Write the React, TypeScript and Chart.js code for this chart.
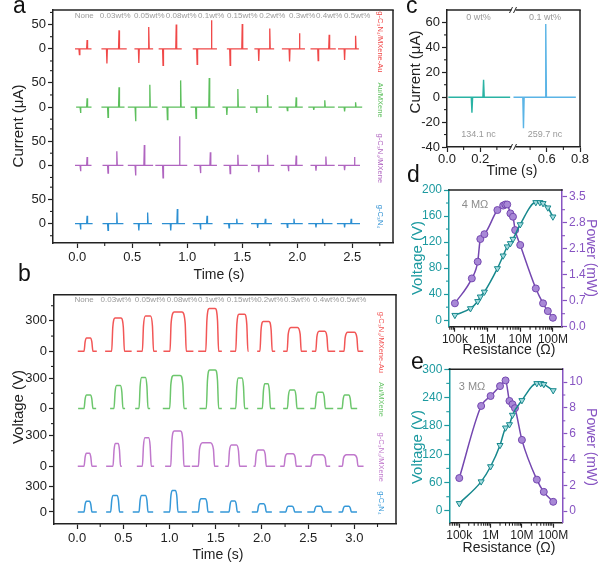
import React, { useEffect, useRef } from 'react';
import { Chart, registerables } from 'chart.js';

Chart.register(...registerables);
const FONT = '"Liberation Sans", Arial, Helvetica, sans-serif';
Chart.defaults.font.family = FONT;

// ---------------- shared labels ----------------
const concLabels = ['None', '0.03wt%', '0.05wt%', '0.08wt%', '0.1wt%', '0.15wt%', '0.2wt%', '0.3wt%', '0.4wt%', '0.5wt%'];
const seriesNames = ['g-C₃N₄/MXene-Au', 'Au/MXene', 'g-C₃N₄/MXene', 'g-C₃N₄'];

// ---------------- panel a : current (µA) ----------------
const aLabelTimes = [0.064, 0.345, 0.655, 0.945, 1.218, 1.5, 1.773, 2.045, 2.29, 2.545];
const aRedStart = [-0.02, 0.22, 0.52, 0.74, 1.05, 1.36, 1.61, 1.86, 2.12, 2.37];
const aRedEnd = [0.13, 0.45, 0.69, 0.95, 1.27, 1.55, 1.79, 2.07, 2.35, 2.56];
const aRedNegT = [0.02, 0.27, 0.56, 0.78, 1.09, 1.39, 1.65, 1.93, 2.19, 2.43];
const aRedPosT = [0.09, 0.38, 0.65, 0.9, 1.22, 1.5, 1.75, 2.02, 2.29, 2.53];
const aRedNeg = [-12, -30, -29, -34, -32, -34, -25, -26, -24, -23];
const aRedPos = [18, 38, 45, 50, 59, 51, 42, 32, 29, 27];

const aGreenStart = [-0.01, 0.22, 0.46, 0.77, 1.03, 1.32, 1.57, 1.83, 2.1, 2.37];
const aGreenEnd = [0.13, 0.43, 0.73, 0.98, 1.25, 1.53, 1.77, 2.05, 2.34, 2.59];
const aGreenNegT = [0.03, 0.28, 0.53, 0.82, 1.08, 1.36, 1.63, 1.91, 2.15, 2.43];
const aGreenPosT = [0.09, 0.38, 0.66, 0.94, 1.2, 1.46, 1.73, 1.99, 2.25, 2.53];
const aGreenNeg = [-12, -21, -29, -26, -23, -16, -12, -7, -6, -9];
const aGreenPos = [18, 41, 46, 55, 60, 37, 25, 20, 14, 10];

const aPurpleStart = [-0.02, 0.23, 0.46, 0.71, 1.06, 1.33, 1.58, 1.85, 2.12, 2.37];
const aPurpleEnd = [0.13, 0.42, 0.69, 1.0, 1.27, 1.55, 1.79, 2.05, 2.34, 2.57];
const aPurpleNegT = [0.03, 0.28, 0.53, 0.78, 1.12, 1.39, 1.65, 1.92, 2.17, 2.43];
const aPurplePosT = [0.09, 0.36, 0.61, 0.93, 1.21, 1.46, 1.73, 1.99, 2.26, 2.52];
const aPurpleNeg = [-12, -16, -21, -26, -16, -17, -14, -12, -11, -10];
const aPurplePos = [17, 29, 42, 60, 27, 22, 22, 20, 18, 17];

const aBlueStart = [-0.02, 0.23, 0.51, 0.77, 1.05, 1.33, 1.58, 1.85, 2.1, 2.36];
const aBlueEnd = [0.14, 0.42, 0.68, 0.98, 1.23, 1.51, 1.77, 2.05, 2.32, 2.57];
const aBlueNegT = [0.03, 0.28, 0.56, 0.85, 1.12, 1.38, 1.64, 1.91, 2.17, 2.43];
const aBluePosT = [0.09, 0.36, 0.64, 0.91, 1.18, 1.45, 1.71, 1.97, 2.23, 2.49];
const aBlueNeg = [-12, -14, -14, -14, -12, -9, -9, -8, -8, -8];
const aBluePos = [16, 23, 23, 30, 16, 10, 10, 10, 10, 10];

// ---------------- panel b : voltage (V) ----------------
const bLabelTimes = [0.076, 0.42, 0.79, 1.136, 1.45, 1.786, 2.09, 2.38, 2.695, 2.987];
const bRedStart = [0.007, 0.303, 0.646, 0.934, 1.31, 1.656, 1.948, 2.229, 2.54, 2.835];
const bRedEnd = [0.213, 0.59, 0.863, 1.258, 1.566, 1.855, 2.143, 2.486, 2.792, 3.095];
const bRedRise = [0.087, 0.386, 0.718, 1.017, 1.404, 1.728, 1.99, 2.284, 2.594, 2.9];
const bRedFall = [0.159, 0.5, 0.815, 1.169, 1.519, 1.836, 2.099, 2.413, 2.703, 3.027];
const bRedPeak = [132, 329, 348, 387, 423, 365, 294, 235, 197, 187];

const bGreenStart = [0.011, 0.357, 0.628, 0.927, 1.324, 1.656, 1.948, 2.229, 2.522, 2.814];
const bGreenEnd = [0.206, 0.519, 0.79, 1.187, 1.566, 1.851, 2.143, 2.457, 2.771, 3.03];
const bGreenRise = [0.087, 0.411, 0.682, 1.014, 1.41, 1.728, 2.016, 2.287, 2.587, 2.879];
const bGreenFall = [0.159, 0.484, 0.755, 1.144, 1.519, 1.8, 2.08, 2.367, 2.673, 2.955];
const bGreenPeak = [132, 226, 306, 326, 381, 300, 245, 181, 161, 132];

const bPurpleStart = [0.007, 0.314, 0.646, 0.952, 1.241, 1.602, 1.908, 2.197, 2.468, 2.828];
const bPurpleEnd = [0.213, 0.484, 0.833, 1.223, 1.529, 1.837, 2.143, 2.432, 2.738, 3.099];
const bPurpleRise = [0.087, 0.4, 0.718, 1.025, 1.324, 1.648, 1.937, 2.251, 2.54, 2.882];
const bPurpleFall = [0.148, 0.458, 0.79, 1.144, 1.475, 1.746, 2.035, 2.359, 2.684, 3.027];
const bPurplePeak = [126, 221, 275, 341, 227, 205, 158, 120, 110, 110];

const bBlueStart = [0.007, 0.314, 0.602, 0.934, 1.241, 1.548, 1.89, 2.189, 2.49, 2.828];
const bBlueEnd = [0.213, 0.5, 0.823, 1.187, 1.475, 1.764, 2.107, 2.432, 2.754, 3.028];
const bBlueRise = [0.087, 0.375, 0.682, 1.014, 1.324, 1.656, 1.962, 2.27, 2.576, 2.882];
const bBlueFall = [0.148, 0.447, 0.755, 1.079, 1.404, 1.721, 2.035, 2.342, 2.649, 2.955];
const bBluePeak = [125, 195, 195, 253, 156, 129, 97, 66, 66, 66];

// ---------------- panel c : current traces ----------------
const cLeftTime = [0.008, 0.146, 0.15, 0.154, 0.216, 0.22, 0.224, 0.38];
const cLeftCurrent = [0, 0, -12.5, 0, 0, 14, 0, 0];
const cRightTime = [0.4, 0.456, 0.46, 0.464, 0.59, 0.594, 0.598, 0.775];
const cRightCurrent = [0, 0, -25, 0, 0, 58.7, 0, 0];

// ---------------- panel d : 4 MΩ matching ----------------
const dVoltR = [1e5, 3e5, 5e5, 6e5, 8e5, 2e6, 3e6, 4e6, 5e6, 6e6, 1e7, 3e7, 4e7, 5e7, 7e7, 1e8];
const dVolt = [7.7, 18, 29, 36, 43.5, 79.5, 99, 113, 118, 124.6, 147, 181, 181, 179.5, 172.8, 158.9];
const dPowR = [1e5, 3.3e5, 5e5, 6e5, 8e5, 2e6, 3e6, 3.5e6, 4e6, 5e6, 6e6, 7e6, 1e7, 3e7, 5e7, 7e7, 1e8];
const dPow = [0.63, 1.3, 1.75, 2.36, 2.49, 3.14, 3.26, 3.29, 3.29, 3.05, 2.96, 2.6, 2.2, 1.03, 0.63, 0.42, 0.24];

// ---------------- panel e : 3 MΩ matching ----------------
const eVoltR = [1e5, 5e5, 1e6, 2e6, 3e6, 4e6, 5e6, 1e7, 3e7, 4e7, 5e7, 1e8];
const eVolt = [16, 62, 94, 139, 176, 183, 203, 234, 270, 270, 268, 255];
const ePowR = [1e5, 5e5, 1e6, 2e6, 3e6, 4e6, 5e6, 6e6, 1e7, 3e7, 5e7, 1e8];
const ePow = [2.56, 8.15, 8.92, 9.69, 10.13, 8.54, 8.28, 7.98, 5.52, 2.44, 1.49, 0.72];

// ---------------- layout constants ----------------
const A_OFF = [360, 240, 120, 0];
const B_OFF = [1588, 1023, 452, 0];
const B_SC = [1, 1, 1.02, 0.84];
const A_COL = ['#f04848', '#5cbf5c', '#b065c0', '#2c8fd2'];
const B_COL = ['#f25656', '#6cc66c', '#c078cc', '#3598d8'];
const TEAL = '#1d9aa0';
const TEAL_D = '#17888d';
const PURP = '#8754c2';
const PURP_D = '#7447b0';
const INK = '#222';

function steps(a: number, b: number, s: number) {
  const out: number[] = [];
  const n = Math.round((b - a) / s);
  for (let k = 0; k <= n; k++) out.push(+(a + k * s).toFixed(6));
  return out;
}
const isMult = (v: number, m: number) => Math.abs(v / m - Math.round(v / m)) < 1e-6;

function spikeTrace(s: number[], e: number[], nt: number[], pt: number[], ni: number[], pi: number[], off: number) {
  const pts: any[] = [];
  const d = 0.004;
  for (let k = 0; k < s.length; k++) {
    pts.push({ x: s[k], y: off }, { x: nt[k] - d, y: off }, { x: nt[k], y: off + ni[k] }, { x: nt[k] + d, y: off },
      { x: pt[k] - d, y: off }, { x: pt[k], y: off + pi[k] }, { x: pt[k] + d, y: off }, { x: e[k], y: off });
    pts.push({ x: e[k] + 0.002, y: null });
  }
  return pts;
}

function pulseTrace(s: number[], e: number[], r: number[], f: number[], p: number[], off: number, sc: number) {
  const pts: any[] = [];
  for (let k = 0; k < s.length; k++) {
    const w = f[k] - r[k];
    const push = (x: number, v: number) => pts.push({ x, y: off + v * sc });
    push(s[k], 0); push(r[k] - 0.012, 0); push(r[k], 0.72 * p[k]); push(r[k] + 0.22 * w, p[k]);
    push(f[k] - 0.22 * w, p[k]); push(f[k], 0.72 * p[k]); push(f[k] + 0.012, 0); push(e[k], 0);
    pts.push({ x: e[k] + 0.002, y: null });
  }
  return pts;
}

const xy = (xs: number[], ys: number[]) => xs.map((x, i) => ({ x, y: ys[i] }));

function axis(o: any) {
  const color = o.color || INK;
  const border = o.border || INK;
  return {
    type: o.type || 'linear',
    position: o.pos,
    min: o.min,
    max: o.max,
    afterBuildTicks: (s: any) => { s.ticks = o.ticks.map((v: number) => ({ value: v })); },
    afterFit: (s: any) => { if (o.pos === 'left' || o.pos === 'right') s.width = o.size; else s.height = o.size; },
    ticks: {
      autoSkip: false, maxRotation: 0, minRotation: 0, padding: o.pad ?? 2, color,
      font: { size: o.font || 13, family: FONT },
      callback: (v: number) => o.label(v),
    },
    grid: {
      drawOnChartArea: false, drawTicks: true, tickLength: 5, tickWidth: 1.2,
      tickColor: (c: any) => (c.tick && o.label(c.tick.value) === '' ? 'rgba(0,0,0,0)' : border),
    },
    border: { display: true, color: border, width: 1.5 },
  };
}

function deco(cfg: any) {
  return {
    id: 'deco',
    afterDraw(chart: any) {
      const ctx = chart.ctx;
      const ca = chart.chartArea;
      ctx.save();
      ctx.lineWidth = 1.5;
      if (cfg.top) { ctx.strokeStyle = cfg.top; ctx.beginPath(); ctx.moveTo(ca.left - 0.75, ca.top); ctx.lineTo(ca.right + 0.75, ca.top); ctx.stroke(); }
      if (cfg.right) { ctx.strokeStyle = cfg.right; ctx.beginPath(); ctx.moveTo(ca.right, ca.top); ctx.lineTo(ca.right, ca.bottom); ctx.stroke(); }
      (cfg.minor || []).forEach((m: any) => {
        const sc = chart.scales[m.id];
        ctx.strokeStyle = m.color; ctx.lineWidth = 1.1;
        sc.ticks.forEach((t: any) => {
          if (m.label(t.value) !== '') return;
          const p = sc.getPixelForValue(t.value);
          ctx.beginPath();
          if (m.pos === 'left') { ctx.moveTo(ca.left, p); ctx.lineTo(ca.left - 3, p); }
          else if (m.pos === 'right') { ctx.moveTo(ca.right, p); ctx.lineTo(ca.right + 3, p); }
          else { ctx.moveTo(p, ca.bottom); ctx.lineTo(p, ca.bottom + 3); }
          ctx.stroke();
        });
      });
      if (cfg.extra) cfg.extra(chart, ctx);
      (cfg.texts ? cfg.texts(chart) : []).forEach((t: any) => {
        ctx.save();
        ctx.translate(t.x, t.y);
        if (t.rot) ctx.rotate(t.rot);
        ctx.font = t.font;
        ctx.fillStyle = t.color;
        ctx.textAlign = t.align || 'center';
        ctx.textBaseline = t.base || 'middle';
        ctx.fillText(t.text, 0, 0);
        ctx.restore();
      });
      ctx.restore();
    },
  };
}

const baseOpts = {
  responsive: false,
  animation: false,
  devicePixelRatio: 1,
  plugins: { legend: { display: false }, tooltip: { enabled: false } },
  elements: { point: { radius: 0 } },
};

// ---------------- chart configs ----------------
function configA(): any {
  const sets = [
    [aRedStart, aRedEnd, aRedNegT, aRedPosT, aRedNeg, aRedPos],
    [aGreenStart, aGreenEnd, aGreenNegT, aGreenPosT, aGreenNeg, aGreenPos],
    [aPurpleStart, aPurpleEnd, aPurpleNegT, aPurplePosT, aPurpleNeg, aPurplePos],
    [aBlueStart, aBlueEnd, aBlueNegT, aBluePosT, aBlueNeg, aBluePos],
  ];
  const datasets = sets.map((s, g) => ({
    data: spikeTrace(s[0], s[1], s[2], s[3], s[4], s[5], A_OFF[g]),
    borderColor: A_COL[g], borderWidth: 1.3, pointRadius: 0, tension: 0,
  }));
  const yT: { v: number; l: string }[] = [];
  A_OFF.forEach((o) => [-25, 0, 25, 50, 75].forEach((r) => yT.push({ v: o + r, l: r === 0 ? '0' : r === 50 ? '50' : '' })));
  yT.sort((p, q) => p.v - q.v);
  const yLab = (v: number) => { const f = yT.find((t) => Math.abs(t.v - v) < 1e-6); return f ? f.l : ''; };
  const xLab = (v: number) => (isMult(v, 0.5) ? v.toFixed(1) : '');
  return {
    type: 'line',
    data: { datasets },
    options: {
      ...baseOpts,
      layout: { padding: { top: 10, right: 7, left: 0, bottom: 0 } },
      scales: {
        x: axis({ pos: 'bottom', min: -0.22, max: 2.87, ticks: steps(0, 2.75, 0.25), label: xLab, size: 42 }),
        y: axis({ pos: 'left', min: -40, max: 440, ticks: yT.map((t) => t.v), label: yLab, size: 53 }),
      },
    },
    plugins: [deco({
      top: INK, right: INK,
      minor: [{ id: 'x', pos: 'bottom', color: INK, label: xLab }, { id: 'y', pos: 'left', color: INK, label: yLab }],
      texts: (ch: any) => {
        const xs = ch.scales.x, ys = ch.scales.y, ca = ch.chartArea;
        const out: any[] = [];
        concLabels.forEach((t, i) => out.push({ text: t, x: xs.getPixelForValue(aLabelTimes[i]), y: ca.top + 6, font: `8px ${FONT}`, color: '#9a9a9a' }));
        seriesNames.forEach((t, g) => out.push({ text: t, x: 380, y: ys.getPixelForValue(A_OFF[g]) - 7, font: `7.5px ${FONT}`, color: A_COL[g], rot: Math.PI / 2 }));
        out.push({ text: 'Current (μA)', x: 19, y: 126, font: `15px ${FONT}`, color: INK, rot: -Math.PI / 2 });
        out.push({ text: 'Time (s)', x: 219, y: 275, font: `14px ${FONT}`, color: INK });
        return out;
      },
    })],
  };
}

function configB(): any {
  const sets = [
    [bRedStart, bRedEnd, bRedRise, bRedFall, bRedPeak],
    [bGreenStart, bGreenEnd, bGreenRise, bGreenFall, bGreenPeak],
    [bPurpleStart, bPurpleEnd, bPurpleRise, bPurpleFall, bPurplePeak],
    [bBlueStart, bBlueEnd, bBlueRise, bBlueFall, bBluePeak],
  ];
  const datasets = sets.map((s, g) => ({
    data: pulseTrace(s[0], s[1], s[2], s[3], s[4], B_OFF[g], B_SC[g]),
    borderColor: B_COL[g], borderWidth: 1.5, pointRadius: 0, cubicInterpolationMode: 'monotone',
  }));
  const rel = [[-150, 0, 150, 300, 450], [-150, 0, 150, 300], [0, 150, 300], [0, 150, 300]];
  const yT: { v: number; l: string }[] = [];
  B_OFF.forEach((o, g) => rel[g].forEach((r) => yT.push({ v: +(o + r * B_SC[g]).toFixed(3), l: r === 0 ? '0' : r === 300 ? '300' : '' })));
  yT.sort((p, q) => p.v - q.v);
  const yLab = (v: number) => { const f = yT.find((t) => Math.abs(t.v - v) < 1e-3); return f ? f.l : ''; };
  const xLab = (v: number) => (isMult(v, 0.5) ? v.toFixed(1) : '');
  return {
    type: 'line',
    data: { datasets },
    options: {
      ...baseOpts,
      layout: { padding: { top: 5, right: 4, left: 0, bottom: 0 } },
      scales: {
        x: axis({ pos: 'bottom', min: -0.25, max: 3.45, ticks: steps(0, 3.25, 0.25), label: xLab, size: 41 }),
        y: axis({ pos: 'left', min: -119, max: 2146, ticks: yT.map((t) => t.v), label: yLab, size: 54 }),
      },
    },
    plugins: [deco({
      top: INK, right: INK,
      minor: [{ id: 'x', pos: 'bottom', color: INK, label: xLab }, { id: 'y', pos: 'left', color: INK, label: yLab }],
      texts: (ch: any) => {
        const xs = ch.scales.x, ys = ch.scales.y, ca = ch.chartArea;
        const out: any[] = [];
        concLabels.forEach((t, i) => out.push({ text: t, x: xs.getPixelForValue(bLabelTimes[i]), y: ca.top + 5, font: `8px ${FONT}`, color: '#9a9a9a' }));
        seriesNames.forEach((t, g) => out.push({ text: t, x: 381, y: ys.getPixelForValue(B_OFF[g]) - 9, font: `7.5px ${FONT}`, color: B_COL[g], rot: Math.PI / 2 }));
        out.push({ text: 'Voltage (V)', x: 19, y: 122, font: `15px ${FONT}`, color: INK, rot: -Math.PI / 2 });
        out.push({ text: 'Time (s)', x: 218, y: 270, font: `14px ${FONT}`, color: INK });
        return out;
      },
    })],
  };
}

function configC(): any {
  const yLab = (v: number) => (isMult(v, 20) ? String(Math.round(v)) : '');
  const xLab = (v: number) => (isMult(v, 0.2) ? v.toFixed(1) : '');
  return {
    type: 'line',
    data: {
      datasets: [
        { data: xy(cLeftTime, cLeftCurrent), borderColor: '#2ab3a4', borderWidth: 1.4, pointRadius: 0, tension: 0 },
        { data: xy(cRightTime, cRightCurrent), borderColor: '#5ab4e6', borderWidth: 1.4, pointRadius: 0, tension: 0 },
      ],
    },
    options: {
      ...baseOpts,
      layout: { padding: { top: 10, right: 20, left: 0, bottom: 0 } },
      scales: {
        x: axis({ pos: 'bottom', min: 0, max: 0.8, ticks: [0, 0.1, 0.2, 0.3, 0.5, 0.6, 0.7, 0.8], label: xLab, size: 35, pad: 0 }),
        y: axis({ pos: 'left', min: -40, max: 70, ticks: steps(-40, 60, 10), label: yLab, size: 47 }),
      },
    },
    plugins: [deco({
      top: INK, right: INK,
      minor: [{ id: 'x', pos: 'bottom', color: INK, label: xLab }, { id: 'y', pos: 'left', color: INK, label: yLab }],
      extra: (ch: any, ctx: any) => {
        const x0 = ch.scales.x.getPixelForValue(0.4);
        [ch.chartArea.top, ch.chartArea.bottom].forEach((y: number) => {
          ctx.fillStyle = '#fff';
          ctx.fillRect(x0 - 2, y - 2, 4, 4);
          ctx.strokeStyle = INK; ctx.lineWidth = 1;
          ctx.beginPath();
          ctx.moveTo(x0 - 4, y + 3); ctx.lineTo(x0 - 1, y - 3);
          ctx.moveTo(x0, y + 3); ctx.lineTo(x0 + 3, y - 3);
          ctx.stroke();
        });
      },
      texts: (ch: any) => {
        const xs = ch.scales.x, ys = ch.scales.y;
        const g = `9px ${FONT}`;
        return [
          { text: '0 wt%', x: xs.getPixelForValue(0.19), y: ys.getPixelForValue(64), font: g, color: '#999' },
          { text: '0.1 wt%', x: xs.getPixelForValue(0.59), y: ys.getPixelForValue(64), font: g, color: '#999' },
          { text: '134.1 nc', x: xs.getPixelForValue(0.19), y: ys.getPixelForValue(-30), font: g, color: '#999' },
          { text: '259.7 nc', x: xs.getPixelForValue(0.59), y: ys.getPixelForValue(-30), font: g, color: '#999' },
          { text: 'Current (μA)', x: 16, y: 72, font: `15px ${FONT}`, color: INK, rot: -Math.PI / 2 },
          { text: 'Time (s)', x: 112, y: 171, font: `14px ${FONT}`, color: INK },
        ];
      },
    })],
  };
}

function logTicks(min: number, max: number) {
  const out: number[] = [];
  for (let e = 4; e <= 8; e++) for (let m = 1; m <= 9; m++) { const v = m * Math.pow(10, e); if (v >= min && v <= max) out.push(v); }
  return out;
}
const rLab = (v: number) => {
  const map: any = { 100000: '100k', 1000000: '1M', 10000000: '10M', 100000000: '100M' };
  return map[Math.round(v)] || '';
};

function configDE(o: any): any {
  return {
    type: 'line',
    data: {
      datasets: [
        {
          data: xy(o.vR, o.v), yAxisID: 'y', borderColor: TEAL_D, borderWidth: 1.5, cubicInterpolationMode: 'monotone',
          pointStyle: 'triangle', rotation: 180, pointRadius: 3.5, pointBorderWidth: 1,
          pointBackgroundColor: '#a7dde0', pointBorderColor: TEAL_D,
        },
        {
          data: xy(o.pR, o.p), yAxisID: 'y1', borderColor: PURP_D, borderWidth: 1.5, cubicInterpolationMode: 'monotone',
          pointStyle: 'circle', pointRadius: 3.5, pointBorderWidth: 1,
          pointBackgroundColor: '#a888d6', pointBorderColor: PURP_D,
        },
      ],
    },
    options: {
      ...baseOpts,
      layout: { padding: { top: o.padTop, right: 0, left: 0, bottom: 0 } },
      scales: {
        x: axis({ type: 'logarithmic', pos: 'bottom', min: o.xMin, max: o.xMax, ticks: logTicks(o.xMin, o.xMax), label: rLab, size: o.xSize, font: 12, pad: 1 }),
        y: axis({ pos: 'left', min: o.yMin, max: o.yMax, ticks: o.yTicks, label: o.yLab, size: o.ySize, color: TEAL, border: TEAL, font: 12 }),
        y1: axis({ pos: 'right', min: o.pMin, max: o.pMax, ticks: o.pTicks, label: o.pLab, size: o.pSize, color: PURP, border: PURP, font: 12 }),
      },
    },
    plugins: [deco({
      top: INK,
      minor: [
        { id: 'x', pos: 'bottom', color: INK, label: rLab },
        { id: 'y', pos: 'left', color: TEAL, label: o.yLab },
        { id: 'y1', pos: 'right', color: PURP, label: o.pLab },
      ],
      texts: () => [
        { text: 'Voltage (V)', x: 18, y: o.titleY, font: `15px ${FONT}`, color: TEAL, rot: -Math.PI / 2 },
        { text: 'Power (mW)', x: 191, y: o.titleY, font: `14px ${FONT}`, color: PURP, rot: Math.PI / 2 },
        { text: 'Resistance (Ω)', x: 109, y: o.resY, font: `14px ${FONT}`, color: INK },
        { text: o.note, x: o.noteX, y: o.noteY, font: `11px ${FONT}`, color: '#8c8c8c' },
      ],
    })],
  };
}

export default function App() {
  const aRef = useRef<HTMLCanvasElement>(null);
  const bRef = useRef<HTMLCanvasElement>(null);
  const cRef = useRef<HTMLCanvasElement>(null);
  const dRef = useRef<HTMLCanvasElement>(null);
  const eRef = useRef<HTMLCanvasElement>(null);

  useEffect(() => {
    const charts: Chart[] = [];
    charts.push(new Chart(aRef.current as HTMLCanvasElement, configA()));
    charts.push(new Chart(bRef.current as HTMLCanvasElement, configB()));
    charts.push(new Chart(cRef.current as HTMLCanvasElement, configC()));
    charts.push(new Chart(dRef.current as HTMLCanvasElement, configDE({
      vR: dVoltR, v: dVolt, pR: dPowR, p: dPow,
      padTop: 20, xMin: 66000, xMax: 1.9e8, xSize: 33.3,
      yMin: -10, yMax: 200, yTicks: steps(0, 200, 20), yLab: (v: number) => (isMult(v, 40) ? String(Math.round(v)) : ''), ySize: 49,
      pMin: 0, pMax: 3.68, pTicks: steps(0, 3.5, 0.35), pLab: (v: number) => (isMult(v, 0.7) ? v.toFixed(1) : ''), pSize: 38,
      titleY: 88, resY: 180, note: '4 MΩ', noteX: 75, noteY: 35,
    })));
    charts.push(new Chart(eRef.current as HTMLCanvasElement, configDE({
      vR: eVoltR, v: eVolt, pR: ePowR, p: ePow,
      padTop: 8.3, xMin: 48000, xMax: 1.95e8, xSize: 42.3,
      yMin: -25, yMax: 300, yTicks: steps(0, 300, 30), yLab: (v: number) => (isMult(v, 60) ? String(Math.round(v)) : ''), ySize: 49.3,
      pMin: -0.9, pMax: 11, pTicks: steps(0, 10, 1), pLab: (v: number) => (isMult(v, 2) ? String(Math.round(v)) : ''), pSize: 37.7,
      titleY: 87, resY: 188.5, note: '3 MΩ', noteX: 72, noteY: 27,
    })));
    return () => charts.forEach((c) => c.destroy());
  }, []);

  const letter = (t: string, left: number, top: number) => (
    <div style={{ position: 'absolute', left, top, fontFamily: FONT, fontSize: 23, lineHeight: '23px', color: '#111' }}>{t}</div>
  );

  return (
    <div style={{ position: 'absolute', left: 0, top: 0, width: 600, height: 565, background: '#fff', overflow: 'hidden' }}>
      <canvas ref={aRef} width={400} height={285} style={{ position: 'absolute', left: 0, top: 0 }} />
      <canvas ref={bRef} width={400} height={280} style={{ position: 'absolute', left: 0, top: 285 }} />
      <canvas ref={dRef} width={200} height={190} style={{ position: 'absolute', left: 400, top: 170 }} />
      <canvas ref={eRef} width={200} height={205} style={{ position: 'absolute', left: 400, top: 360 }} />
      <canvas ref={cRef} width={200} height={182} style={{ position: 'absolute', left: 400, top: 0 }} />
      {letter('a', 13, -6)}
      {letter('b', 18, 262)}
      {letter('c', 406, -6)}
      {letter('d', 407, 163)}
      {letter('e', 411, 350)}
    </div>
  );
}
